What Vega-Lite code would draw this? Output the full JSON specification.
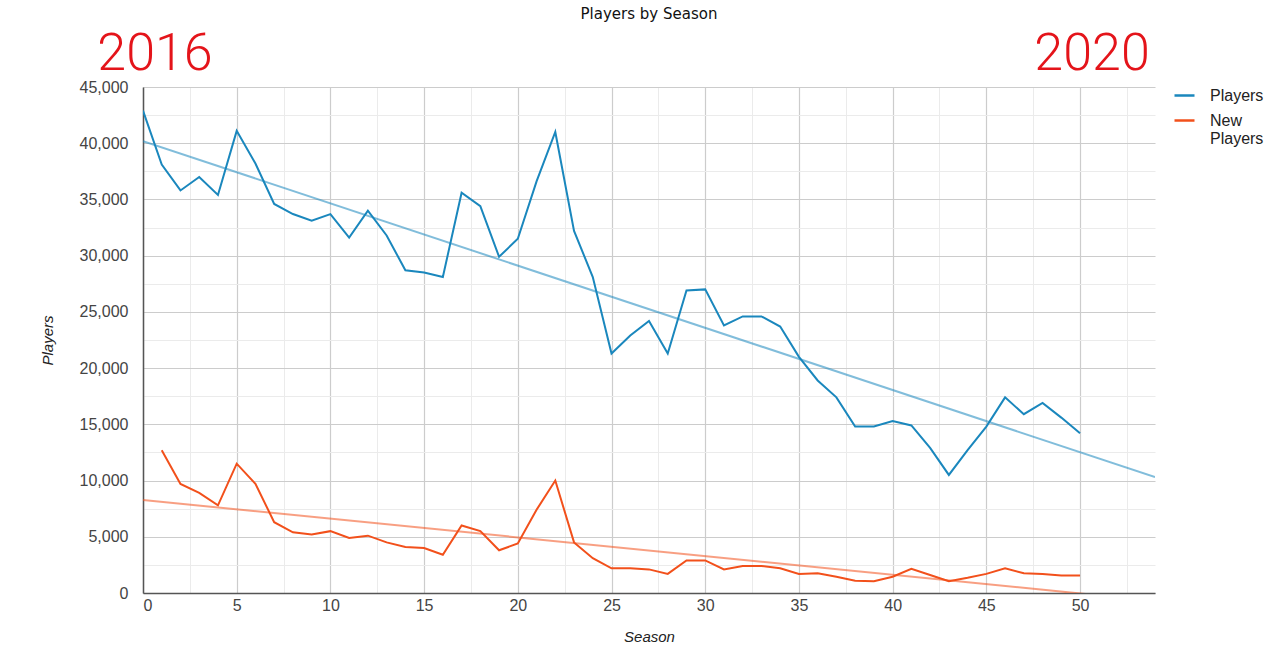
{
  "$schema": "https://vega.github.io/schema/vega-lite/v6.json",
  "autosize": "none",
  "width": 1012,
  "height": 506,
  "padding": {"left": 143, "top": 87, "right": 125, "bottom": 56},
  "background": "white",
  "config": {
    "view": {"stroke": null},
    "font": "Liberation Sans"
  },
  "title": {
    "text": "Players by Season",
    "font": "DejaVu Sans",
    "fontSize": 15,
    "fontWeight": "normal",
    "color": "#111111",
    "anchor": "middle",
    "offset": 6
  },
  "datasets": {
    "main": [
      {"season": 0, "series": "Players", "value": 42900},
      {"season": 1, "series": "Players", "value": 38100},
      {"season": 2, "series": "Players", "value": 35800},
      {"season": 3, "series": "Players", "value": 37000},
      {"season": 4, "series": "Players", "value": 35400},
      {"season": 5, "series": "Players", "value": 41100},
      {"season": 6, "series": "Players", "value": 38200},
      {"season": 7, "series": "Players", "value": 34600},
      {"season": 8, "series": "Players", "value": 33700},
      {"season": 9, "series": "Players", "value": 33100},
      {"season": 10, "series": "Players", "value": 33700},
      {"season": 11, "series": "Players", "value": 31600},
      {"season": 12, "series": "Players", "value": 34000},
      {"season": 13, "series": "Players", "value": 31800},
      {"season": 14, "series": "Players", "value": 28700},
      {"season": 15, "series": "Players", "value": 28500},
      {"season": 16, "series": "Players", "value": 28100},
      {"season": 17, "series": "Players", "value": 35600},
      {"season": 18, "series": "Players", "value": 34400},
      {"season": 19, "series": "Players", "value": 29900},
      {"season": 20, "series": "Players", "value": 31500},
      {"season": 21, "series": "Players", "value": 36600},
      {"season": 22, "series": "Players", "value": 41000},
      {"season": 23, "series": "Players", "value": 32200},
      {"season": 24, "series": "Players", "value": 28100},
      {"season": 25, "series": "Players", "value": 21300},
      {"season": 26, "series": "Players", "value": 22900},
      {"season": 27, "series": "Players", "value": 24200},
      {"season": 28, "series": "Players", "value": 21300},
      {"season": 29, "series": "Players", "value": 26900},
      {"season": 30, "series": "Players", "value": 27000},
      {"season": 31, "series": "Players", "value": 23800},
      {"season": 32, "series": "Players", "value": 24600},
      {"season": 33, "series": "Players", "value": 24600},
      {"season": 34, "series": "Players", "value": 23700},
      {"season": 35, "series": "Players", "value": 21000},
      {"season": 36, "series": "Players", "value": 18900},
      {"season": 37, "series": "Players", "value": 17400},
      {"season": 38, "series": "Players", "value": 14800},
      {"season": 39, "series": "Players", "value": 14800},
      {"season": 40, "series": "Players", "value": 15300},
      {"season": 41, "series": "Players", "value": 14900},
      {"season": 42, "series": "Players", "value": 12900},
      {"season": 43, "series": "Players", "value": 10500},
      {"season": 44, "series": "Players", "value": 12700},
      {"season": 45, "series": "Players", "value": 14800},
      {"season": 46, "series": "Players", "value": 17400},
      {"season": 47, "series": "Players", "value": 15900},
      {"season": 48, "series": "Players", "value": 16900},
      {"season": 49, "series": "Players", "value": 15600},
      {"season": 50, "series": "Players", "value": 14200},
      {"season": 1, "series": "New Players", "value": 12700},
      {"season": 2, "series": "New Players", "value": 9700},
      {"season": 3, "series": "New Players", "value": 8900},
      {"season": 4, "series": "New Players", "value": 7800},
      {"season": 5, "series": "New Players", "value": 11500},
      {"season": 6, "series": "New Players", "value": 9700},
      {"season": 7, "series": "New Players", "value": 6300},
      {"season": 8, "series": "New Players", "value": 5400},
      {"season": 9, "series": "New Players", "value": 5200},
      {"season": 10, "series": "New Players", "value": 5500},
      {"season": 11, "series": "New Players", "value": 4900},
      {"season": 12, "series": "New Players", "value": 5100},
      {"season": 13, "series": "New Players", "value": 4500},
      {"season": 14, "series": "New Players", "value": 4100},
      {"season": 15, "series": "New Players", "value": 4000},
      {"season": 16, "series": "New Players", "value": 3400},
      {"season": 17, "series": "New Players", "value": 6000},
      {"season": 18, "series": "New Players", "value": 5500},
      {"season": 19, "series": "New Players", "value": 3800},
      {"season": 20, "series": "New Players", "value": 4400},
      {"season": 21, "series": "New Players", "value": 7400},
      {"season": 22, "series": "New Players", "value": 10000},
      {"season": 23, "series": "New Players", "value": 4500},
      {"season": 24, "series": "New Players", "value": 3100},
      {"season": 25, "series": "New Players", "value": 2200},
      {"season": 26, "series": "New Players", "value": 2200},
      {"season": 27, "series": "New Players", "value": 2100},
      {"season": 28, "series": "New Players", "value": 1700},
      {"season": 29, "series": "New Players", "value": 2900},
      {"season": 30, "series": "New Players", "value": 2900},
      {"season": 31, "series": "New Players", "value": 2100},
      {"season": 32, "series": "New Players", "value": 2400},
      {"season": 33, "series": "New Players", "value": 2400},
      {"season": 34, "series": "New Players", "value": 2200},
      {"season": 35, "series": "New Players", "value": 1700},
      {"season": 36, "series": "New Players", "value": 1750},
      {"season": 37, "series": "New Players", "value": 1450},
      {"season": 38, "series": "New Players", "value": 1100},
      {"season": 39, "series": "New Players", "value": 1050},
      {"season": 40, "series": "New Players", "value": 1450},
      {"season": 41, "series": "New Players", "value": 2150},
      {"season": 42, "series": "New Players", "value": 1600},
      {"season": 43, "series": "New Players", "value": 1050},
      {"season": 44, "series": "New Players", "value": 1350},
      {"season": 45, "series": "New Players", "value": 1700},
      {"season": 46, "series": "New Players", "value": 2200},
      {"season": 47, "series": "New Players", "value": 1750},
      {"season": 48, "series": "New Players", "value": 1700},
      {"season": 49, "series": "New Players", "value": 1550},
      {"season": 50, "series": "New Players", "value": 1550}
    ],
    "notes": [
      {"season": 0, "value": 47900, "label": "2016"},
      {"season": 50, "value": 47900, "label": "2020"}
    ]
  },
  "resolve": {"axis": {"x": "independent", "y": "independent"}},
  "layer": [
    {
      "data": {"name": "main"},
      "mark": {"type": "line", "opacity": 0},
      "encoding": {
        "x": {
          "field": "season", "type": "quantitative",
          "scale": {"domain": [0, 54], "nice": false, "zero": false},
          "axis": {
            "orient": "bottom",
            "values": [2.5, 7.5, 12.5, 17.5, 22.5, 27.5, 32.5, 37.5, 42.5, 47.5, 52.5],
            "labels": false, "ticks": false, "domain": false, "title": null,
            "grid": true, "gridColor": "#ebebeb", "gridWidth": 1, "gridOpacity": 1
          }
        },
        "y": {
          "field": "value", "type": "quantitative",
          "scale": {"domain": [0, 45000], "nice": false},
          "axis": {
            "orient": "left",
            "values": [2500, 7500, 12500, 17500, 22500, 27500, 32500, 37500, 42500],
            "labels": false, "ticks": false, "domain": false, "title": null,
            "grid": true, "gridColor": "#ebebeb", "gridWidth": 1, "gridOpacity": 1
          }
        },
        "detail": {"field": "series"}
      }
    },
    {
      "data": {"name": "main"},
      "mark": {"type": "line", "strokeWidth": 2, "clip": true},
      "encoding": {
        "x": {
          "field": "season", "type": "quantitative",
          "scale": {"domain": [0, 54], "nice": false, "zero": false},
          "axis": {
            "orient": "bottom",
            "values": [0, 5, 10, 15, 20, 25, 30, 35, 40, 45, 50],
            "title": "Season", "titleFont": "Liberation Sans", "titleFontSize": 15,
            "titleFontStyle": "italic", "titleFontWeight": "normal", "titleColor": "#222222",
            "titlePadding": 16,
            "labelFont": "Liberation Sans", "labelFontSize": 16, "labelColor": "#444444",
            "labelPadding": 4, "ticks": false,
            "domain": true, "domainColor": "#555555", "domainWidth": 1.5,
            "grid": true, "gridColor": "#cccccc", "gridWidth": 1.2, "gridOpacity": 1
          }
        },
        "y": {
          "field": "value", "type": "quantitative",
          "scale": {"domain": [0, 45000], "nice": false},
          "axis": {
            "orient": "left",
            "values": [0, 5000, 10000, 15000, 20000, 25000, 30000, 35000, 40000, 45000],
            "labelExpr": "format(datum.value, ',')",
            "title": "Players", "titleFont": "Liberation Sans", "titleFontSize": 15,
            "titleFontStyle": "italic", "titleFontWeight": "normal", "titleColor": "#222222",
            "titlePadding": 24,
            "labelFont": "Liberation Sans", "labelFontSize": 16, "labelColor": "#444444",
            "labelPadding": 15, "ticks": false,
            "domain": true, "domainColor": "#555555", "domainWidth": 1.5,
            "grid": true, "gridColor": "#cccccc", "gridWidth": 1.2, "gridOpacity": 1
          }
        },
        "color": {
          "field": "series", "type": "nominal",
          "scale": {"domain": ["Players", "New Players"], "range": ["#1a87bd", "#f2501b"]},
          "legend": {
            "title": null,
            "orient": "none",
            "legendX": 1030,
            "legendY": -3,
            "symbolType": "stroke",
            "symbolSize": 400,
            "symbolStrokeWidth": 2.5,
            "labelFont": "Liberation Sans",
            "labelFontSize": 16,
            "labelColor": "#222222",
            "labelOffset": 14,
            "rowPadding": 5,
            "labelExpr": "datum.label == 'New Players' ? ['New', 'Players'] : datum.label"
          }
        }
      }
    },
    {
      "data": {"name": "main"},
      "transform": [
        {"regression": "value", "on": "season", "groupby": ["series"], "extent": [0, 54]}
      ],
      "mark": {"type": "line", "strokeWidth": 2, "opacity": 0.55, "clip": true},
      "encoding": {
        "x": {"field": "season", "type": "quantitative", "scale": {"domain": [0, 54], "nice": false, "zero": false}, "axis": null},
        "y": {"field": "value", "type": "quantitative", "scale": {"domain": [0, 45000], "nice": false}, "axis": null},
        "color": {"field": "series", "type": "nominal", "legend": null}
      }
    },
    {
      "data": {"name": "notes"},
      "mark": {"type": "text", "font": "Roboto", "fontWeight": 300, "fontSize": 52, "color": "#e4141a", "dx": 12, "baseline": "middle", "align": "center"},
      "encoding": {
        "x": {"field": "season", "type": "quantitative", "scale": {"domain": [0, 54], "nice": false, "zero": false}, "axis": null},
        "y": {"field": "value", "type": "quantitative", "scale": {"domain": [0, 45000], "nice": false}, "axis": null},
        "text": {"field": "label"}
      }
    }
  ]
}
